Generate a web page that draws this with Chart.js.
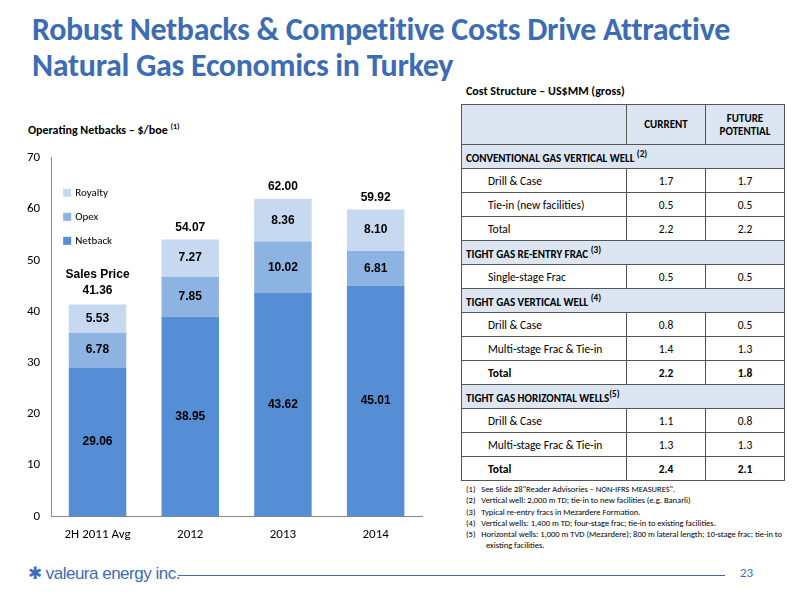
<!DOCTYPE html>
<html>
<head>
<meta charset="utf-8">
<script src="https://cdn.jsdelivr.net/npm/chart.js@4"></script>
<style>
  body { margin: 0; width: 800px; height: 600px; position: relative; background: #fff; font-family: Calibri, Carlito, "Liberation Sans", sans-serif; overflow: hidden; }
  .title { position: absolute; left: 32px; top: 12px; font-size: 32px; font-weight: bold; color: #3c6cb4; line-height: 36px; letter-spacing: -0.3px; }
  .sub { position: absolute; font-size: 12px; font-weight: bold; color: #000; }
  #chartBox { position: absolute; left: 24px; top: 147px; width: 404px; height: 399px; }
  table { position: absolute; left: 461px; top: 104px; width: 324px; border-collapse: collapse; font-size: 11.5px; }
  td { border: 1px solid #555; height: 23px; padding: 0 4px; }
  td.n { text-align: center; width: 70px; }
  td.l { padding-left: 26px; }
  tr.sec td { background: #dce6f2; font-weight: bold; padding-left: 4px; font-size: 11px; }
  tr.hdr td { background: #dce6f2; height: 39px; font-weight: bold; text-align: center; font-size: 11px; }
  tr.tot td { font-weight: bold; }
  .notes { position: absolute; left: 466px; top: 484px; font-size: 8.5px; line-height: 11.3px; color: #000; width: 330px; }
  .notes div { padding-left: 20px; text-indent: -20px; }
  .logo { position: absolute; left: 28px; top: 563px; font-size: 17px; color: #3c6cb4; font-family: "Liberation Sans", sans-serif; letter-spacing: -0.5px; }
  .rule { position: absolute; left: 178px; top: 575px; width: 547px; height: 1px; background: #3c6cb4; }
  .page { position: absolute; left: 740px; top: 565px; font-size: 13px; color: #3c6cb4; }
</style>
</head>
<body>
<div class="title">Robust Netbacks &amp; Competitive Costs Drive Attractive<br>Natural Gas Economics in Turkey</div>
<div class="sub" style="left:466px;top:84px;">Cost Structure – US$MM (gross)</div>
<div class="sub" style="left:28px;top:121px;">Operating Netbacks – $/boe <sup style="font-size:8px">(1)</sup></div>
<div id="chartBox"><canvas id="c"></canvas></div>

<table>
  <tr class="hdr"><td style="background:#dce6f2"></td><td class="n">CURRENT</td><td class="n">FUTURE<br>POTENTIAL</td></tr>
  <tr class="sec"><td colspan="3">CONVENTIONAL GAS VERTICAL WELL <sup>(2)</sup></td></tr>
  <tr><td class="l">Drill &amp; Case</td><td class="n">1.7</td><td class="n">1.7</td></tr>
  <tr><td class="l">Tie-in (new facilities)</td><td class="n">0.5</td><td class="n">0.5</td></tr>
  <tr><td class="l">Total</td><td class="n">2.2</td><td class="n">2.2</td></tr>
  <tr class="sec"><td colspan="3">TIGHT GAS RE-ENTRY FRAC <sup>(3)</sup></td></tr>
  <tr><td class="l">Single-stage Frac</td><td class="n">0.5</td><td class="n">0.5</td></tr>
  <tr class="sec"><td colspan="3">TIGHT GAS VERTICAL WELL <sup>(4)</sup></td></tr>
  <tr><td class="l">Drill &amp; Case</td><td class="n">0.8</td><td class="n">0.5</td></tr>
  <tr><td class="l">Multi-stage Frac &amp; Tie-in</td><td class="n">1.4</td><td class="n">1.3</td></tr>
  <tr class="tot"><td class="l">Total</td><td class="n">2.2</td><td class="n">1.8</td></tr>
  <tr class="sec"><td colspan="3">TIGHT GAS HORIZONTAL WELLS<sup>(5)</sup></td></tr>
  <tr><td class="l">Drill &amp; Case</td><td class="n">1.1</td><td class="n">0.8</td></tr>
  <tr><td class="l">Multi-stage Frac &amp; Tie-in</td><td class="n">1.3</td><td class="n">1.3</td></tr>
  <tr class="tot"><td class="l">Total</td><td class="n">2.4</td><td class="n">2.1</td></tr>
</table>

<div class="notes">
  <div>(1)&nbsp;&nbsp;&nbsp;See Slide 28"Reader Advisories – NON-IFRS MEASURES".</div>
  <div>(2)&nbsp;&nbsp;&nbsp;Vertical well: 2,000 m TD; tie-in to new facilities (e.g. Banarli)</div>
  <div>(3)&nbsp;&nbsp;&nbsp;Typical re-entry fracs in Mezardere Formation.</div>
  <div>(4)&nbsp;&nbsp;&nbsp;Vertical wells: 1,400 m TD; four-stage frac; tie-in to existing facilities.</div>
  <div>(5)&nbsp;&nbsp;&nbsp;Horizontal wells: 1,000 m TVD (Mezardere); 800 m lateral length; 10-stage frac; tie-in to existing facilities.</div>
</div>

<div class="logo">✱ valeura energy inc.</div>
<div class="rule"></div>
<div class="page">23</div>

<script>
const categories = ['2H 2011 Avg', '2012', '2013', '2014'];
const netback = [29.06, 38.95, 43.62, 45.01];
const opex = [6.78, 7.85, 10.02, 6.81];
const royalty = [5.53, 7.27, 8.36, 8.10];
const totals = ['41.36', '54.07', '62.00', '59.92'];
const yTicks = [0, 10, 20, 30, 40, 50, 60, 70];

const labelPlugin = {
  id: 'labels',
  afterDatasetsDraw(chart) {
    const ctx = chart.ctx;
    ctx.save();
    ctx.font = 'bold 12px "Liberation Sans", Arial, sans-serif';
    ctx.fillStyle = '#000';
    ctx.textAlign = 'center';
    ctx.textBaseline = 'middle';
    chart.data.datasets.forEach((ds, di) => {
      chart.getDatasetMeta(di).data.forEach((bar, i) => {
        const v = ds.data[i];
        ctx.fillText(v.toFixed(2), bar.x, (bar.y + bar.base) / 2);
      });
    });
    const top = chart.getDatasetMeta(2).data;
    top.forEach((bar, i) => {
      if (i === 0) {
        ctx.fillText('Sales Price', bar.x, bar.y - 30);
        ctx.fillText(totals[i], bar.x, bar.y - 14);
      } else {
        ctx.fillText(totals[i], bar.x, bar.y - 12);
      }
    });
    ctx.restore();
  }
};

new Chart(document.getElementById('c'), {
  type: 'bar',
  data: {
    labels: categories,
    datasets: [
      { label: 'Netback', data: netback, backgroundColor: '#558ed5', barPercentage: 0.62, categoryPercentage: 1 },
      { label: 'Opex', data: opex, backgroundColor: '#8db3e2', barPercentage: 0.62, categoryPercentage: 1 },
      { label: 'Royalty', data: royalty, backgroundColor: '#c6d9f1', barPercentage: 0.62, categoryPercentage: 1 }
    ]
  },
  options: {
    responsive: true,
    maintainAspectRatio: false,
    animation: false,
    layout: { padding: { top: 8, right: 6 } },
    plugins: {
      tooltip: { enabled: false },
      legend: { display: false }
    },
    scales: {
      x: {
        stacked: true,
        grid: { display: false },
        border: { color: '#888' },
        ticks: { color: '#000', font: { size: 13, family: 'Calibri, Carlito, "Liberation Sans", sans-serif' } }
      },
      y: {
        stacked: true, min: 0, max: 70,
        afterBuildTicks: ax => { ax.ticks = yTicks.map(v => ({ value: v })); },
        grid: { display: false },
        border: { color: '#888' },
        ticks: { color: '#000', font: { size: 13, family: 'Calibri, Carlito, "Liberation Sans", sans-serif' } }
      }
    }
  },
  plugins: [labelPlugin, {
    id: 'legendBox',
    afterDraw(chart) {
      const ctx = chart.ctx;
      const x = chart.chartArea.left + 12;
      let y = chart.chartArea.top + 35;
      const items = [['Royalty', '#c6d9f1'], ['Opex', '#8db3e2'], ['Netback', '#558ed5']];
      ctx.save();
      ctx.font = '11px Calibri, Carlito, "Liberation Sans", sans-serif';
      ctx.textBaseline = 'middle';
      items.forEach(([t, c]) => {
        ctx.fillStyle = c; ctx.fillRect(x, y - 4, 8, 8);
        ctx.fillStyle = '#000'; ctx.fillText(t, x + 12, y);
        y += 24;
      });
      ctx.restore();
    }
  }]
});
</script>
</body>
</html>
